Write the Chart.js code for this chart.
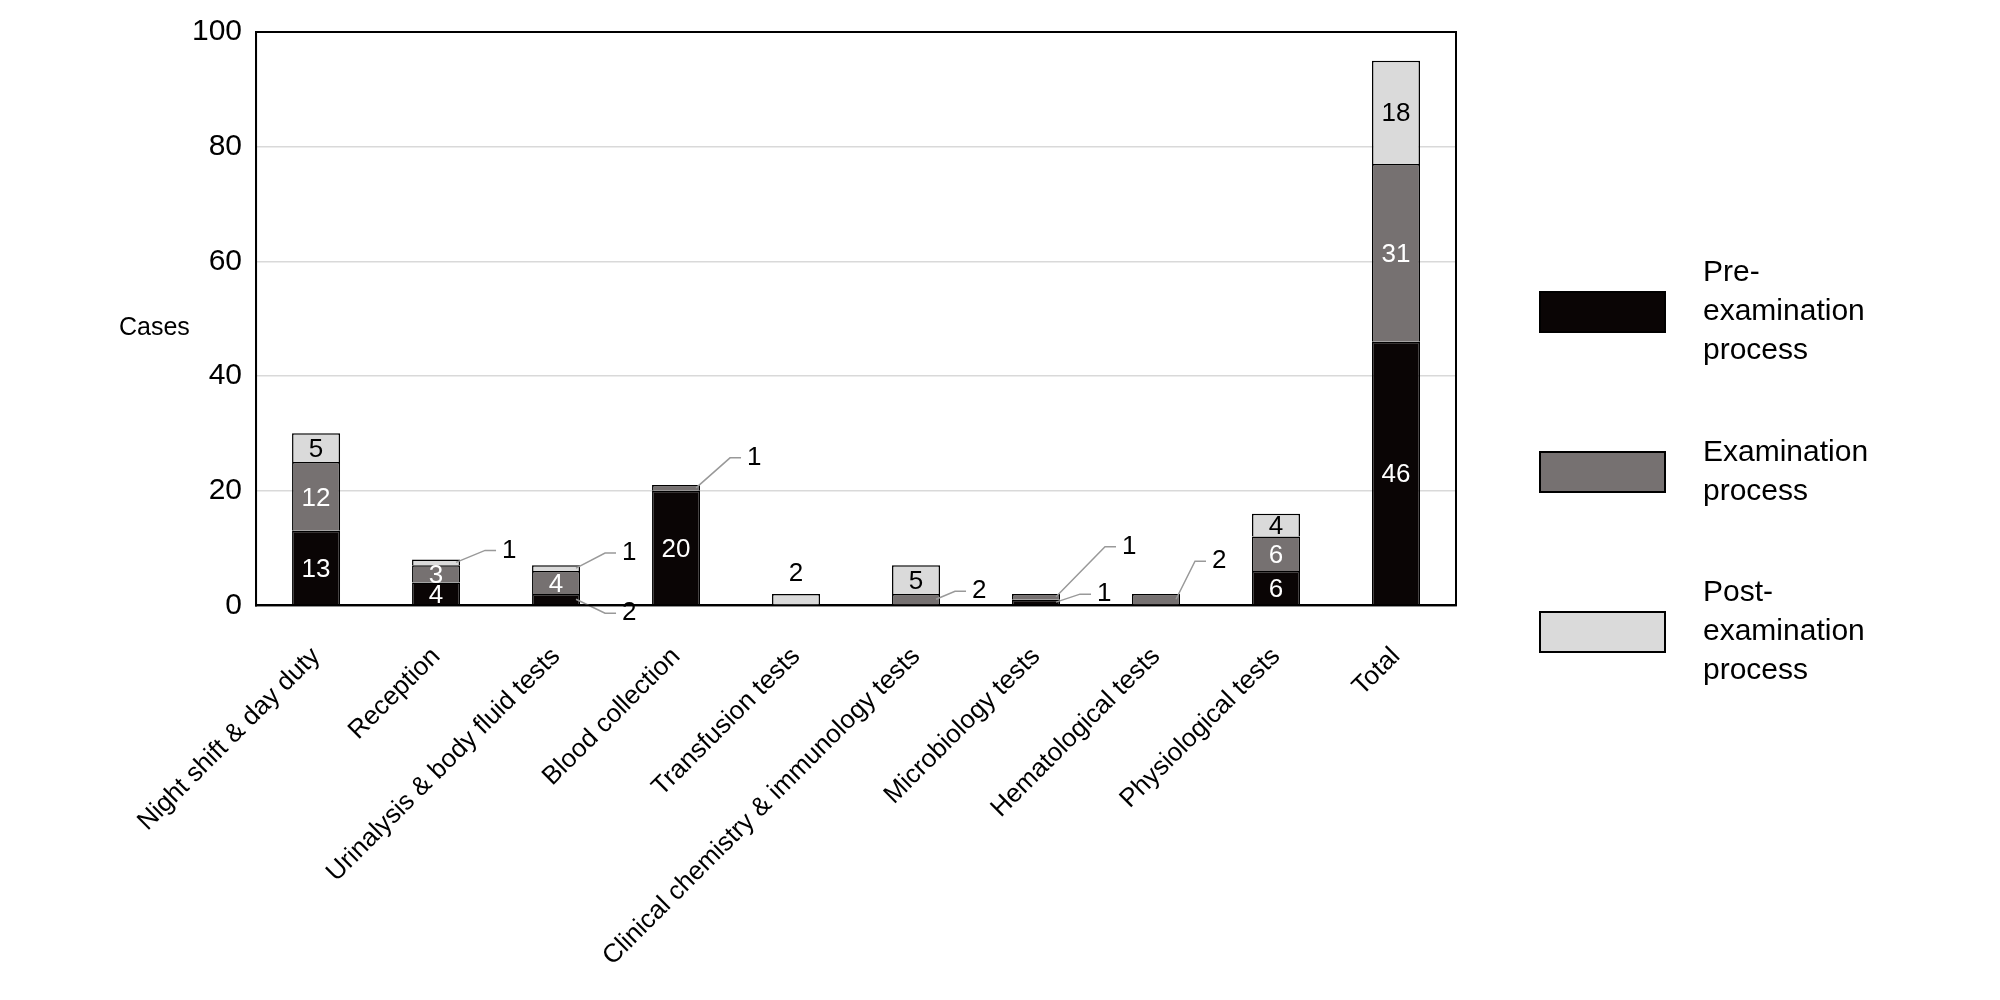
<!DOCTYPE html>
<html><head><meta charset="utf-8">
<script src="https://cdn.jsdelivr.net/npm/chart.js@4"></script>
<style>html,body{margin:0;background:#fff}#wrap{width:2000px;height:1000px}</style>
</head><body><div id="wrap"><canvas id="c"></canvas></div>
<script>
const categories = ['Night shift & day duty','Reception','Urinalysis & body fluid tests','Blood collection','Transfusion tests','Clinical chemistry & immunology tests','Microbiology tests','Hematological tests','Physiological tests','Total'];
const preExam  = [13, 4, 2, 20, 0, 0, 1, 0, 6, 46];
const exam     = [12, 3, 4, 1, 0, 2, 1, 2, 6, 31];
const postExam = [5, 1, 1, 0, 2, 5, 0, 0, 4, 18];
const seriesNames = ['Pre-\nexamination\nprocess', 'Examination\nprocess', 'Post-\nexamination\nprocess'];
const colors = ['#0a0505', '#767171', '#dadada'];

// leader-line label offsets for small segments: "category,dataset" -> [dx, dy]
const outside = {
  '1,2': [50, -12], '2,2': [50, -15], '2,0': [50, 14], '3,1': [55, -30],
  '4,2': [0, -28, 'top'], '5,1': [40, -8], '6,1': [70, -50], '6,0': [45, -8], '7,1': [40, -38]
};

const labelPlugin = {
  id: 'labels',
  afterDatasetsDraw(chart) {
    const ctx = chart.ctx;
    ctx.save();
    ctx.font = '26px Arial, "Liberation Sans"';
    ctx.textBaseline = 'middle';
    chart.data.datasets.forEach((ds, di) => {
      chart.getDatasetMeta(di).data.forEach((bar, i) => {
        const v = ds.data[i];
        if (!v) return;
        const top = bar.y, bot = bar.base, cy = (top + bot) / 2;
        const key = i + ',' + di;
        if (outside[key]) {
          const [dx, dy, mode] = outside[key];
          ctx.fillStyle = '#000';
          if (mode === 'top') {
            ctx.textAlign = 'center';
            ctx.fillText(v, bar.x, top - 20);
            return;
          }
          const sx = bar.x + bar.width / 2 - 4, tx = bar.x + bar.width / 2 + dx, ty = cy + dy;
          ctx.strokeStyle = '#999'; ctx.lineWidth = 1.5;
          ctx.beginPath(); ctx.moveTo(sx, cy); ctx.lineTo(tx - 25, ty); ctx.lineTo(tx - 14, ty); ctx.stroke();
          ctx.textAlign = 'left';
          ctx.fillText(v, tx - 8, ty);
        } else {
          ctx.textAlign = 'center';
          ctx.fillStyle = di === 2 ? '#000' : '#fff';
          ctx.fillText(v, bar.x, cy + 2);
        }
      });
    });
    // y title
    ctx.fillStyle = '#000'; ctx.textAlign = 'left';
    ctx.font = '25px Arial, "Liberation Sans"';
    ctx.fillText('Cases', 119, 328);
    // legend
    ctx.font = '30px Arial, "Liberation Sans"';
    const ys = [312, 472, 632];
    seriesNames.forEach((n, k) => {
      ctx.fillStyle = colors[k]; ctx.strokeStyle = '#000'; ctx.lineWidth = 2;
      ctx.fillRect(1540, ys[k] - 20, 125, 40); ctx.strokeRect(1540, ys[k] - 20, 125, 40);
      const lines = n.split('\n');
      ctx.fillStyle = '#000';
      lines.forEach((l, j) => ctx.fillText(l, 1703, ys[k] + (j - (lines.length - 1) / 2) * 39));
    });
    // plot frame
    const a = chart.chartArea;
    ctx.strokeStyle = '#000'; ctx.lineWidth = 2;
    ctx.strokeRect(a.left, a.top, a.right - a.left, a.bottom - a.top);
    ctx.restore();
  }
};

new Chart(document.getElementById('c'), {
  type: 'bar',
  data: {
    labels: categories,
    datasets: [preExam, exam, postExam].map((d, k) => ({
      label: seriesNames[k], data: d, backgroundColor: colors[k],
      borderColor: '#000', borderWidth: 1.5, barPercentage: 0.4, categoryPercentage: 1
    }))
  },
  plugins: [labelPlugin],
  options: {
    responsive: true, maintainAspectRatio: false, animation: false,
    layout: { padding: { left: 178, right: 544, top: 16, bottom: 0 } },
    plugins: { legend: { display: false }, tooltip: { enabled: false } },
    scales: {
      x: {
        stacked: true,
        grid: { display: false },
        border: { color: '#000', width: 2 },
        ticks: { color: '#000', padding: 28, maxRotation: 45, minRotation: 45, font: { size: 26, family: 'Arial, "Liberation Sans"' } }
      },
      y: {
        stacked: true, min: 0, max: 100,
        grid: { color: '#d9d9d9', lineWidth: 1.5, drawTicks: false },
        border: { color: '#000', width: 2 },
        ticks: { stepSize: 20, color: '#000', padding: 14, font: { size: 30, family: 'Arial, "Liberation Sans"' } }
      }
    }
  }
});
</script></body></html>
